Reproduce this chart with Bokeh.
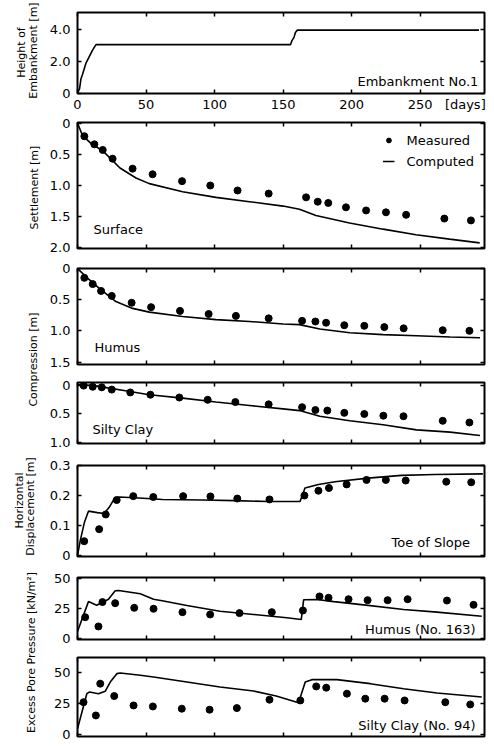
import numpy as np
from bokeh.plotting import figure
from bokeh.models import (Range1d, LinearAxis, FixedTicker, NumeralTickFormatter,
                          Label, Legend, LegendItem)
from bokeh.layouts import column, row
from bokeh.embed import file_html
from bokeh.resources import INLINE
from bokeh.core.properties import value

FONT = "DejaVu Sans"

# ---------------- data ----------------
x_ticks = [0, 50, 100, 150, 200, 250]

# Height of embankment
emb_days = [0, 1.5, 2.5, 3.7, 6.2, 8.6, 11, 13.5, 155.5, 156.5, 158, 159, 160.5, 293]
emb_height = [0, 0.3, 0.9, 1.2, 1.9, 2.3, 2.7, 3.05, 3.05, 3.3, 3.5, 3.8, 3.95, 3.95]

# Settlement (surface)
settle_meas_days = [5.0, 12.3, 18.4, 25.6, 40.2, 54.8, 76.3, 96.9, 116.8, 139.5, 166.8,
                    175.3, 183.0, 195.9, 210.6, 225.1, 239.8, 267.7, 287.1]
settle_meas = [0.21, 0.34, 0.43, 0.57, 0.73, 0.82, 0.93, 1.00, 1.08, 1.13, 1.19,
               1.26, 1.28, 1.35, 1.40, 1.43, 1.47, 1.53, 1.56]
settle_comp_days = [0, 3.7, 10, 18.3, 31, 42.7, 52.4, 76.7, 101, 125.5, 150, 162,
                    174, 198.5, 223, 247, 271.5, 293.5]
settle_comp = [0, 0.2, 0.33, 0.44, 0.72, 0.88, 0.97, 1.10, 1.19, 1.26, 1.33, 1.38,
               1.48, 1.60, 1.70, 1.79, 1.86, 1.92]

# Compression, humus
humus_meas_days = [5.0, 11.1, 17.2, 25.0, 39.5, 53.7, 74.8, 95.7, 115.6, 139.5, 163.9,
                   173.6, 181.4, 194.7, 209.3, 223.9, 238.0, 266.5, 286.0]
humus_meas = [0.15, 0.25, 0.36, 0.44, 0.55, 0.62, 0.68, 0.73, 0.76, 0.80, 0.84,
              0.85, 0.87, 0.91, 0.92, 0.94, 0.96, 0.99, 1.00]
humus_comp_days = [0, 8.6, 15.9, 28, 40.2, 52.4, 76.7, 101, 125.5, 150, 162, 176.8,
                   198.7, 223, 247.4, 271.9, 293.7]
humus_comp = [0, 0.18, 0.32, 0.53, 0.64, 0.70, 0.77, 0.82, 0.85, 0.89, 0.90, 0.97,
              1.03, 1.06, 1.08, 1.10, 1.11]

# Compression, silty clay
clay_meas_days = [4.5, 11.1, 17.7, 25.0, 38.5, 53.2, 74.3, 95.0, 115.2, 139.5, 163.9,
                  173.6, 182.3, 194.7, 209.3, 223.2, 237.9, 266.5, 286.0]
clay_meas = [0.0, 0.02, 0.03, 0.07, 0.12, 0.16, 0.21, 0.25, 0.29, 0.33, 0.38,
             0.43, 0.44, 0.48, 0.50, 0.53, 0.54, 0.62, 0.65]
clay_comp_days = [0, 12, 22, 35, 52.4, 76.7, 101, 125.5, 150, 162, 176.8, 198.7,
                  223, 247.4, 271.9, 293.7]
clay_comp = [-0.02, 0.0, 0.04, 0.09, 0.16, 0.22, 0.29, 0.35, 0.41, 0.44, 0.54, 0.62,
             0.69, 0.78, 0.82, 0.88]

# Horizontal displacement, toe of slope
hd_meas_days = [4.9, 15.8, 20.6, 28.6, 40.7, 55.3, 77.1, 97.0, 116.6, 140.1, 165.6,
                175.8, 183.5, 196.4, 210.9, 225.0, 239.5, 269.1, 287.3]
hd_meas = [0.048, 0.088, 0.137, 0.185, 0.198, 0.195, 0.198, 0.197, 0.190, 0.187, 0.200,
           0.216, 0.225, 0.237, 0.252, 0.252, 0.250, 0.246, 0.244]
hd_comp_days = [0, 2, 5, 8, 14.5, 19.4, 23, 26.7, 30.3, 45, 62, 91, 115, 139.4, 162.4,
                166, 175.8, 187.9, 212, 236.4, 260.6, 295.8]
hd_comp = [0, 0.05, 0.11, 0.148, 0.143, 0.14, 0.16, 0.188, 0.195, 0.192, 0.187, 0.185,
           0.183, 0.18, 0.18, 0.225, 0.237, 0.246, 0.258, 0.267, 0.27, 0.272]

# Excess pore pressure, humus (No. 163)
pph_meas_days = [5.6, 15.3, 18.2, 27.5, 41.4, 55.5, 76.6, 96.8, 118.2, 141.8, 164.5,
                 176.6, 183.2, 197.8, 211.7, 226.3, 240.9, 269.6, 289.0]
pph_meas = [18, 10.3, 30.6, 29.7, 25.8, 25, 22.2, 20.3, 21.4, 22.2, 23.6,
            35.3, 34.2, 33, 32.2, 32.2, 33, 31.9, 28.3]
pph_comp_days = [0, 8, 14, 22.6, 27.5, 30, 45.8, 55.5, 62.8, 79.8, 104, 128.5, 152.8,
                 163.3, 165, 174.7, 187, 208.8, 238, 262.3, 295]
pph_comp = [6, 31, 28, 33, 40, 40.3, 37.5, 33, 31.5, 27.8, 23, 20.3, 17.5,
            16.1, 32.5, 32.8, 31, 28.3, 24.4, 22.2, 18.8]

# Excess pore pressure, silty clay (No. 94)
ppc_meas_days = [4.4, 13.4, 16.6, 26.8, 40.9, 55.0, 76.1, 96.4, 116.3, 140.1, 162.6,
                 174.2, 181.5, 196.6, 210.0, 224.1, 238.7, 268.4, 286.6]
ppc_meas = [26, 15.4, 40.8, 30.9, 23.4, 22.6, 20.8, 20, 21.3, 28, 27.4,
            38.6, 37.6, 32.8, 28.8, 28.8, 27.4, 26, 24.2]
ppc_comp_days = [0, 6.8, 8.8, 15.3, 20.2, 23.9, 28.7, 31.2, 45.8, 55.5, 79.8, 104,
                 128.5, 145, 161.3, 166.2, 171, 189.3, 213.6, 238, 262.3, 295]
ppc_comp = [4.8, 32.8, 34.1, 32.8, 34.7, 42.1, 48.8, 49.3, 47.5, 46.1, 42.1, 38.1,
            34.9, 31, 25.5, 42.1, 44, 44, 40.8, 36.8, 33.3, 30.1]


# ---------------- helpers ----------------
def add_axis(p, side, ticks, labels=False, overrides=None, fmt=None):
    ax = LinearAxis(ticker=FixedTicker(ticks=ticks, minor_ticks=[]))
    ax.axis_line_color = None
    ax.minor_tick_line_color = None
    ax.major_tick_in = 4
    ax.major_tick_out = 0
    ax.major_tick_line_width = 1.5
    ax.major_tick_line_color = "black"
    if labels:
        ax.major_label_text_font = FONT
        ax.major_label_text_font_size = "13px"
        ax.major_label_text_color = "black"
        ax.major_label_standoff = 7
        if fmt is not None:
            ax.formatter = fmt
        if overrides:
            ax.major_label_overrides = overrides
    else:
        ax.major_label_overrides = {t: "" for t in ticks}
        ax.major_label_text_font_size = "1px"
        ax.major_label_standoff = 0
    p.add_layout(ax, side)
    return ax


def panel(frame_h, b_top, b_bottom, y_start, y_end, y_ticks, fmt=None, overrides=None):
    p = figure(width=452, height=b_top + frame_h + b_bottom,
               x_range=Range1d(0, 297), y_range=Range1d(y_start, y_end),
               x_axis_type=None, y_axis_type=None,
               toolbar_location=None, output_backend="svg",
               min_border_left=35, min_border_right=10,
               min_border_top=b_top, min_border_bottom=b_bottom)
    p.outline_line_color = "black"
    p.outline_line_width = 2
    p.outline_line_alpha = 1.0
    p.background_fill_color = "white"
    p.border_fill_color = "white"
    add_axis(p, "below", x_ticks)
    add_axis(p, "above", x_ticks)
    add_axis(p, "left", y_ticks, labels=True, fmt=fmt, overrides=overrides)
    add_axis(p, "right", y_ticks)
    return p


def tag(p, x, y, text, align="left"):
    p.add_layout(Label(x=x, y=y, text=text, text_font=FONT, text_font_size="13px",
                       text_color="black", text_align=align, text_baseline="middle"))


dec = NumeralTickFormatter(format="0.0")
LINE_W = 1.6
DOT = 7

# Panel 1: embankment height
p1 = panel(82, 12, 20, 0, 5.05, [0, 2, 4], fmt=dec, overrides={0: "0"})
xl = LinearAxis(ticker=FixedTicker(ticks=x_ticks + [283], minor_ticks=[]))
xl.axis_line_color = None
xl.major_tick_line_color = None
xl.major_tick_in = 0
xl.major_tick_out = 0
xl.minor_tick_line_color = None
xl.major_label_text_font = FONT
xl.major_label_text_font_size = "13px"
xl.major_label_text_color = "black"
xl.major_label_standoff = 3
xl.major_label_overrides = {283: "[days]"}
p1.add_layout(xl, "below")
p1.line(emb_days, emb_height, line_color="black", line_width=LINE_W)
tag(p1, 292.5, 0.74, "Embankment No.1", "right")

# Panel 2: settlement
p2 = panel(126, 8, 10, 2.01, -0.01, [0, 0.5, 1.0, 1.5, 2.0], fmt=dec, overrides={0: "0"})
sc2 = p2.scatter(settle_meas_days, settle_meas, size=DOT, color="black")
ln2 = p2.line(settle_comp_days, settle_comp, line_color="black", line_width=LINE_W)
tag(p2, 11.7, 1.71, "Surface")
leg = Legend(items=[LegendItem(label="Measured", renderers=[sc2]),
                    LegendItem(label="Computed", renderers=[ln2])],
             location="top_right", border_line_color=None, background_fill_alpha=0,
             label_text_font=FONT, label_text_font_size="13px", label_text_color="black",
             glyph_width=12, glyph_height=16, label_height=16, label_standoff=12,
             spacing=5, padding=2, margin=10)
p2.add_layout(leg)

# Panel 3: compression humus
p3 = panel(96, 10, 9, 1.54, 0, [0, 0.5, 1.0, 1.5], fmt=dec, overrides={0: "0"})
p3.scatter(humus_meas_days, humus_meas, size=DOT, color="black")
p3.line(humus_comp_days, humus_comp, line_color="black", line_width=LINE_W)
tag(p3, 12.4, 1.26, "Humus")

# Panel 4: compression silty clay
p4 = panel(61, 9, 11, 1.02, -0.055, [0, 0.5, 1.0], fmt=dec, overrides={0: "0"})
p4.scatter(clay_meas_days, clay_meas, size=DOT, color="black")
p4.line(clay_comp_days, clay_comp, line_color="black", line_width=LINE_W)
tag(p4, 10.9, 0.78, "Silty  Clay")

# Panel 5: horizontal displacement
p5 = panel(91, 11, 11, -0.003, 0.3, [0, 0.1, 0.2, 0.3], fmt=dec, overrides={0: "0"})
p5.scatter(hd_meas_days, hd_meas, size=DOT, color="black")
p5.line(hd_comp_days, hd_comp, line_color="black", line_width=LINE_W)
tag(p5, 292.5, 0.045, "Toe  of  Slope", "right")

# Panel 6: pore pressure humus
p6 = panel(62, 10, 9, -0.6, 51.1, [0, 25, 50])
p6.scatter(pph_meas_days, pph_meas, size=DOT, color="black")
p6.line(pph_comp_days, pph_comp, line_color="black", line_width=LINE_W)
tag(p6, 290.5, 7.75, "Humus (No. 163)", "right")

# Panel 7: pore pressure silty clay
p7 = panel(79, 9, 10, -1.4, 61.7, [0, 25, 50])
p7.scatter(ppc_meas_days, ppc_meas, size=DOT, color="black")
p7.line(ppc_comp_days, ppc_comp, line_color="black", line_width=LINE_W)
tag(p7, 290.5, 7.4, "Silty Clay (No. 94)", "right")

# Axis titles column
lab = figure(width=42, height=746, x_range=Range1d(0, 42), y_range=Range1d(0, 746),
             x_axis_type=None, y_axis_type=None, toolbar_location=None,
             output_backend="svg", min_border=0)
lab.outline_line_color = None
lab.border_fill_color = "white"
title_text = ["Height of", "Embankment [m]", "Settlement [m]", "Compression [m]",
              "Horizontal", "Displacement [m]", "Excess Pore Pressure [kN/m²]"]
title_x = [21, 33, 34, 33, 19, 30, 31]
title_y = [746 - 52, 746 - 50, 746 - 187, 746 - 359, 746 - 500, 746 - 506, 746 - 652]
lab.text(x=title_x, y=title_y, text=title_text, angle=np.pi / 2,
         text_align="center", text_baseline="middle",
         text_font=value(FONT), text_font_size="11px", text_color="black")

layout = row(lab, column(p1, p2, p3, p4, p5, p6, p7, spacing=0), spacing=0)

open("out.html", "w").write(file_html(layout, INLINE))
